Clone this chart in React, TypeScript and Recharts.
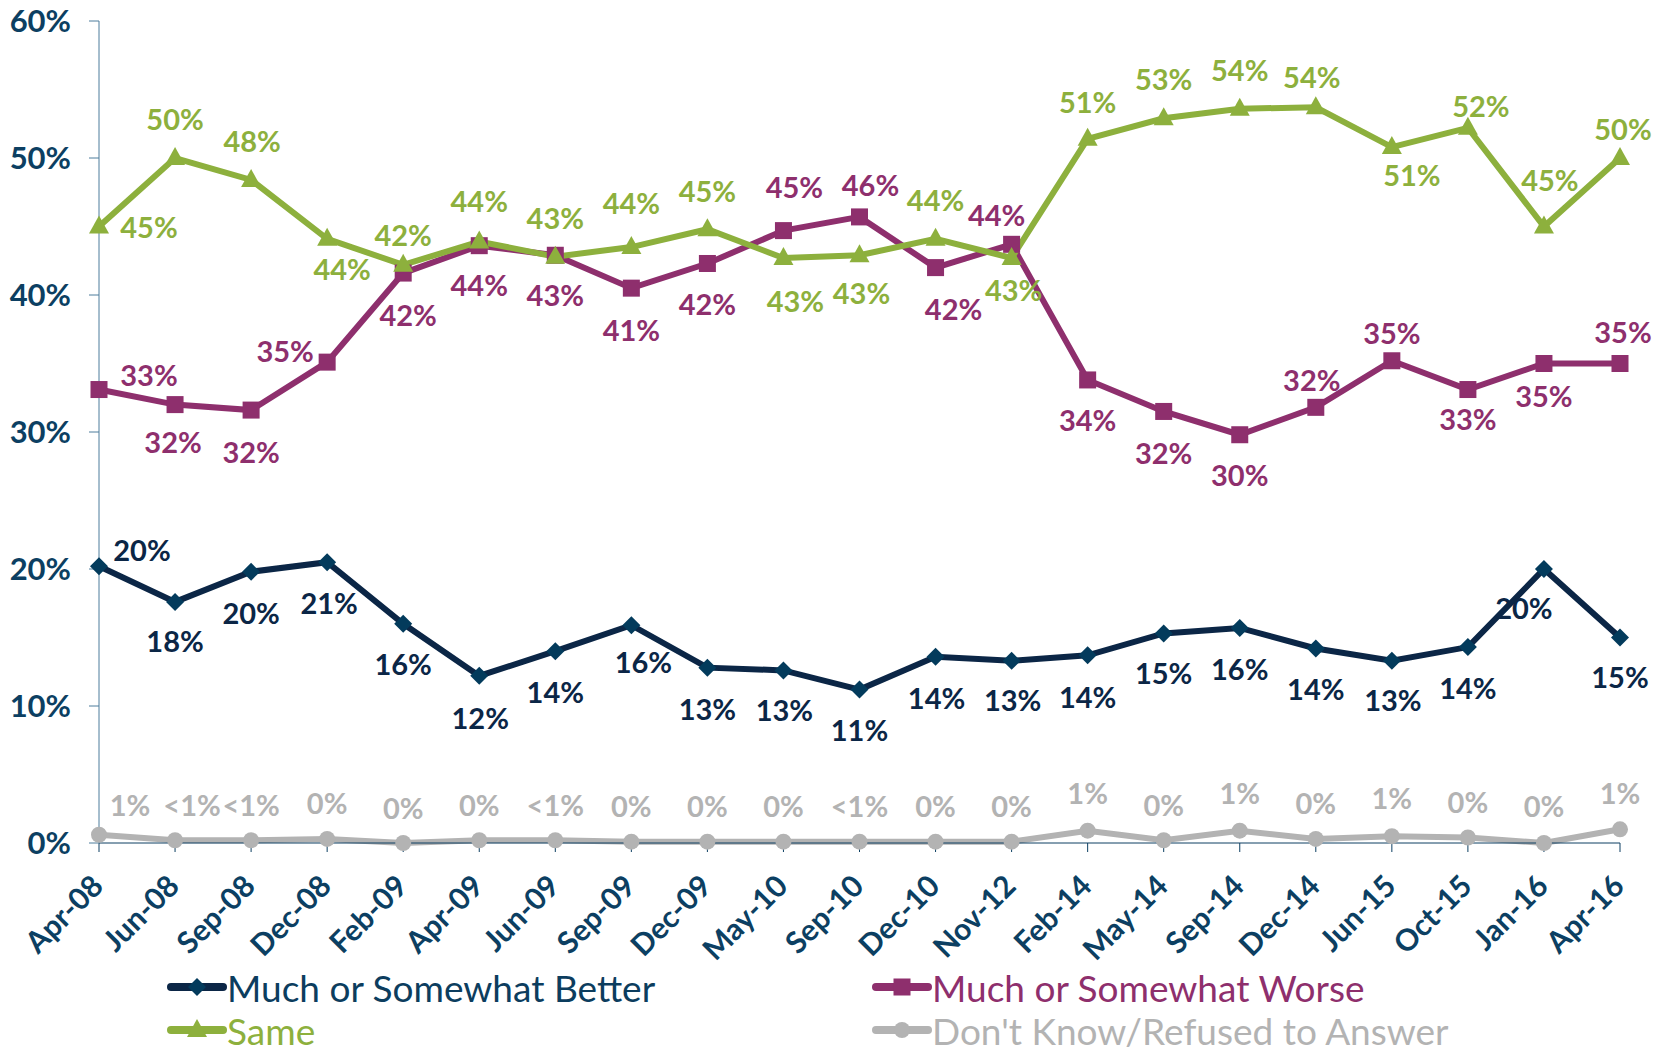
import { Line, LineChart, XAxis, YAxis } from 'recharts';

const FONT = 'Lato, "Open Sans", sans-serif';

const MONTHS = [
  'Apr-08', 'Jun-08', 'Sep-08', 'Dec-08', 'Feb-09', 'Apr-09', 'Jun-09', 'Sep-09', 'Dec-09', 'May-10', 'Sep-10',
  'Dec-10', 'Nov-12', 'Feb-14', 'May-14', 'Sep-14', 'Dec-14', 'Jun-15', 'Oct-15', 'Jan-16', 'Apr-16',
];

const BETTER = [20.2, 17.6, 19.8, 20.5, 16.0, 12.2, 14.0, 15.9, 12.8, 12.6, 11.2, 13.6, 13.3, 13.7, 15.3, 15.7, 14.2, 13.3, 14.3, 20.0, 15.0];
const WORSE = [33.1, 32.0, 31.6, 35.1, 41.6, 43.6, 42.9, 40.5, 42.3, 44.7, 45.7, 42.0, 43.7, 33.8, 31.5, 29.8, 31.8, 35.2, 33.1, 35.0, 35.0];
const SAME = [45.0, 50.0, 48.4, 44.1, 42.2, 43.9, 42.8, 43.5, 44.8, 42.7, 42.9, 44.1, 42.7, 51.4, 52.9, 53.6, 53.7, 50.8, 52.2, 45.0, 50.0];
const DONT_KNOW = [0.6, 0.2, 0.2, 0.3, 0.0, 0.2, 0.2, 0.1, 0.1, 0.1, 0.1, 0.1, 0.1, 0.9, 0.2, 0.9, 0.3, 0.5, 0.4, 0.0, 1.0];

const BETTER_LABELS = ['20%', '18%', '20%', '21%', '16%', '12%', '14%', '16%', '13%', '13%', '11%', '14%', '13%', '14%', '15%', '16%', '14%', '13%', '14%', '20%', '15%'];
const WORSE_LABELS = ['33%', '32%', '32%', '35%', '42%', '44%', '43%', '41%', '42%', '45%', '46%', '42%', '44%', '34%', '32%', '30%', '32%', '35%', '33%', '35%', '35%'];
const SAME_LABELS = ['45%', '50%', '48%', '44%', '42%', '44%', '43%', '44%', '45%', '43%', '43%', '44%', '43%', '51%', '53%', '54%', '54%', '51%', '52%', '45%', '50%'];
const DONT_KNOW_LABELS = ['1%', '<1%', '<1%', '0%', '0%', '0%', '<1%', '0%', '0%', '0%', '<1%', '0%', '0%', '1%', '0%', '1%', '0%', '1%', '0%', '0%', '1%'];

const Y_TICKS = [0, 10, 20, 30, 40, 50, 60];

// label offsets from the point, [dx, dy] in px
const BETTER_POS = [[43, -17], [0, 39], [0, 41], [2, 40], [0, 40], [1, 42], [0, 40], [12, 36], [0, 41], [1, 39], [0, 40], [1, 41], [1, 39], [0, 41], [0, 39], [0, 41], [0, 40], [1, 39], [0, 40], [-20, 38], [0, 39]];
const WORSE_POS = [[50, -15], [-2, 37], [0, 41], [-42, -12], [5, 41], [0, 39], [0, 39], [0, 41], [0, 40], [11, -44], [11, -32], [18, 41], [-15, -30], [0, 40], [0, 41], [0, 40], [-4, -28], [0, -28], [0, 29], [0, 32], [3, -32]];
const SAME_POS = [[50, 0], [0, -40], [1, -39], [15, 30], [0, -30], [0, -41], [0, -39], [0, -45], [0, -39], [12, 42], [2, 37], [0, -39], [2, 31], [0, -37], [0, -40], [0, -39], [-4, -31], [20, 27], [13, -22], [6, -47], [3, -30]];
const DONT_KNOW_POS = [[31, -30], [17, -36], [0, -36], [0, -36], [0, -36], [0, -36], [0, -36], [0, -36], [0, -36], [0, -36], [0, -36], [0, -36], [0, -36], [0, -38], [0, -36], [0, -38], [0, -36], [0, -39], [0, -36], [0, -38], [0, -37]];

const NAVY = '#0b2646';
const NAVY_DOT = '#033b5c';
const PURPLE = '#8e2f6d';
const GREEN = '#8db03d';
const GREY = '#b3b3b3';
const AXIS = '#0c3f62';

const data = MONTHS.map((m, i) => ({
  month: m,
  better: BETTER[i],
  worse: WORSE[i],
  same: SAME[i],
  dontKnow: DONT_KNOW[i],
}));

function marker(kind: string, cx: number, cy: number, fill: string, key?: string) {
  if (kind === 'diamond') {
    const r = 9;
    return <polygon key={key} points={`${cx},${cy - r} ${cx + r},${cy} ${cx},${cy + r} ${cx - r},${cy}`} fill={fill} />;
  }
  if (kind === 'square') {
    const s = 8.5;
    return <rect key={key} x={cx - s} y={cy - s} width={s * 2} height={s * 2} fill={fill} />;
  }
  if (kind === 'triangle') {
    return <polygon key={key} points={`${cx},${cy - 11} ${cx + 10},${cy + 7} ${cx - 10},${cy + 7}`} fill={fill} />;
  }
  return <circle key={key} cx={cx} cy={cy} r={8} fill={fill} />;
}

function makeDot(kind: string, fill: string) {
  return (p: any) => marker(kind, p.cx, p.cy, fill, `${kind}-${p.index}`);
}

function makeLabel(texts: string[], pos: number[][], color: string) {
  return (p: any) => {
    const [dx, dy] = pos[p.index] || [0, -36];
    return (
      <text
        key={`lbl-${color}-${p.index}`}
        x={p.x + dx}
        y={p.y + dy}
        fill={color}
        textAnchor="middle"
        dominantBaseline="central"
        fontSize={29}
        fontWeight={700}
        fontFamily={FONT}
      >
        {texts[p.index]}
      </text>
    );
  };
}

function MonthTick(props: any) {
  const { x, y, payload } = props;
  return (
    <g transform={`translate(${x},${y})`}>
      <text
        x={0}
        y={0}
        transform="translate(6, 34) rotate(-45)"
        textAnchor="end"
        fill={AXIS}
        fontSize={30}
        fontWeight={700}
        fontFamily={FONT}
      >
        {payload.value}
      </text>
    </g>
  );
}

const LEGEND = [
  { name: 'Much or Somewhat Better', color: NAVY, dot: NAVY_DOT, text: '#0c3d5e', kind: 'diamond', left: 167, top: 987 },
  { name: 'Much or Somewhat Worse', color: PURPLE, dot: PURPLE, text: PURPLE, kind: 'square', left: 872, top: 987 },
  { name: 'Same', color: GREEN, dot: GREEN, text: GREEN, kind: 'triangle', left: 167, top: 1030 },
  { name: "Don't Know/Refused to Answer", color: GREY, dot: GREY, text: GREY, kind: 'circle', left: 872, top: 1030 },
];

export default function App() {
  return (
    <div style={{ position: 'relative', width: 1667, height: 1053, background: '#fff', overflow: 'hidden' }}>
      <style>{'body{margin:0}'}</style>
      <LineChart width={1667} height={1053} data={data} margin={{ top: 21, right: 47, left: 0, bottom: 100 }}>
        <XAxis
          dataKey="month"
          scale="point"
          padding={{ left: 0, right: 0 }}
          interval={0}
          height={110}
          tickSize={9}
          tickMargin={2}
          stroke={AXIS}
          tickLine={{ stroke: AXIS }}
          tick={<MonthTick />}
        />
        <YAxis
          domain={[0, 60]}
          ticks={Y_TICKS}
          width={99}
          tickSize={10}
          tickMargin={18}
          stroke="#4d7c9c"
          tickFormatter={(v) => `${v}%`}
          tick={{ fill: AXIS, fontSize: 31, fontWeight: 700, fontFamily: FONT }}
        />
        <Line
          dataKey="dontKnow"
          stroke={GREY}
          strokeWidth={6}
          dot={makeDot('circle', GREY)}
          activeDot={false}
          label={makeLabel(DONT_KNOW_LABELS, DONT_KNOW_POS, GREY)}
          isAnimationActive={false}
        />
        <Line
          dataKey="better"
          stroke={NAVY}
          strokeWidth={6}
          dot={makeDot('diamond', NAVY_DOT)}
          activeDot={false}
          label={makeLabel(BETTER_LABELS, BETTER_POS, NAVY)}
          isAnimationActive={false}
        />
        <Line
          dataKey="worse"
          stroke={PURPLE}
          strokeWidth={6}
          dot={makeDot('square', PURPLE)}
          activeDot={false}
          label={makeLabel(WORSE_LABELS, WORSE_POS, PURPLE)}
          isAnimationActive={false}
        />
        <Line
          dataKey="same"
          stroke={GREEN}
          strokeWidth={6}
          dot={makeDot('triangle', GREEN)}
          activeDot={false}
          label={makeLabel(SAME_LABELS, SAME_POS, GREEN)}
          isAnimationActive={false}
        />
      </LineChart>
      {LEGEND.map((l) => (
        <div
          key={l.name}
          style={{
            position: 'absolute',
            left: l.left,
            top: l.top - 19,
            height: 38,
            display: 'flex',
            alignItems: 'center',
            fontFamily: FONT,
            fontSize: 37,
            lineHeight: 1,
            color: l.text,
            whiteSpace: 'nowrap',
          }}
        >
          <svg width={60} height={30}>
            <line x1={4} y1={15} x2={56} y2={15} stroke={l.color} strokeWidth={8} strokeLinecap="round" />
            {marker(l.kind, 30, 15, l.dot)}
          </svg>
          <span>{l.name}</span>
        </div>
      ))}
    </div>
  );
}
